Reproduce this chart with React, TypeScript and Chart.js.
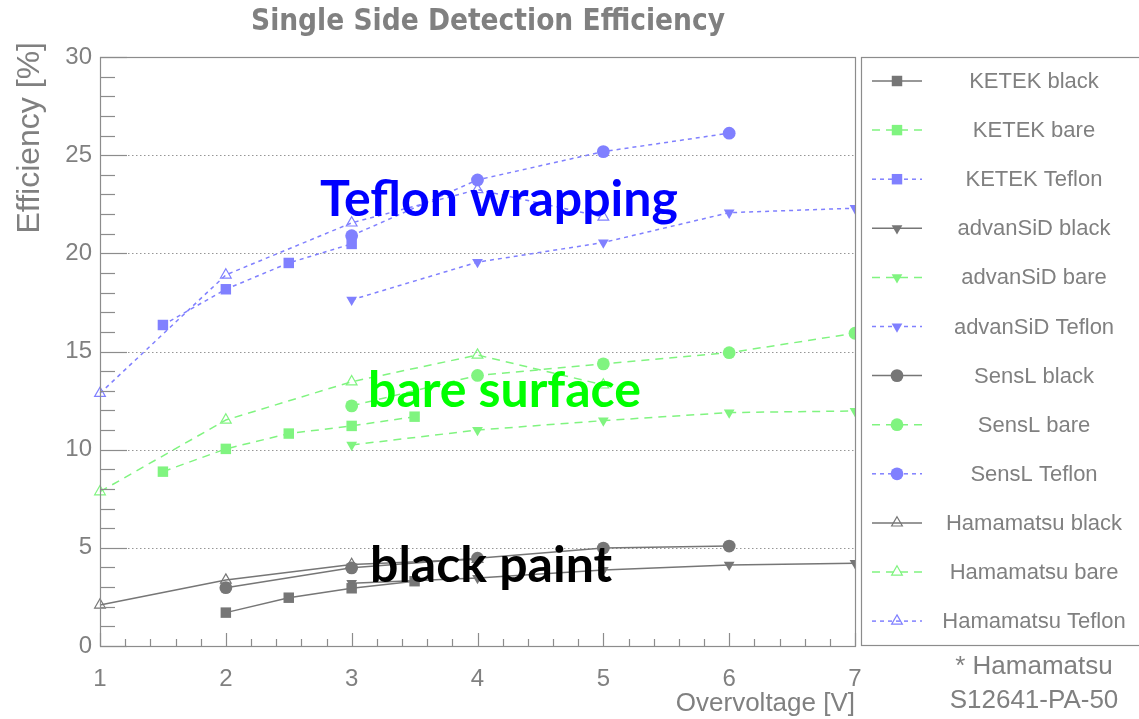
import React, { useEffect, useRef } from "react";
import { Chart, registerables } from "chart.js";

Chart.register(...registerables);

// Axis ranges and tick values
const overvoltageRange = [1, 7];
const efficiencyRange = [0, 30];
const efficiencyGrid = [5, 10, 15, 20, 25];

// Measured single side detection efficiency [%] versus overvoltage [V]
const ketekBlackV = [2, 2.5, 3, 3.5];
const ketekBlackE = [1.7, 2.46, 2.94, 3.3];
const ketekBareV = [1.5, 2, 2.5, 3, 3.5];
const ketekBareE = [8.88, 10.04, 10.82, 11.21, 11.68];
const ketekTeflonV = [1.5, 2, 2.5, 3];
const ketekTeflonE = [16.35, 18.17, 19.51, 20.48];

const advansidBlackV = [3, 4, 5, 6, 7];
const advansidBlackE = [3.2, 3.46, 3.87, 4.13, 4.22];
const advansidBareV = [3, 4, 5, 6, 7];
const advansidBareE = [10.24, 11.0, 11.48, 11.89, 11.97];
const advansidTeflonV = [3, 4, 5, 6, 7];
const advansidTeflonE = [17.63, 19.55, 20.55, 22.07, 22.3];

const senslBlackV = [2, 3, 4, 5, 6];
const senslBlackE = [2.97, 3.98, 4.47, 4.99, 5.09];
const senslBareV = [3, 4, 5, 6, 7];
const senslBareE = [12.23, 13.78, 14.37, 14.94, 15.93];
const senslTeflonV = [3, 4, 5, 6];
const senslTeflonE = [20.9, 23.74, 25.18, 26.12];

const hamamatsuBlackV = [1, 2, 3, 4];
const hamamatsuBlackE = [2.09, 3.36, 4.15, 4.42];
const hamamatsuBareV = [1, 2, 3, 4, 5];
const hamamatsuBareE = [7.86, 11.51, 13.46, 14.82, 13.3];
const hamamatsuTeflonV = [1, 2, 3, 4, 5];
const hamamatsuTeflonE = [12.87, 18.9, 21.55, 23.25, 21.85];

const GRAY = "rgb(118,118,118)";
const GREEN = "rgb(128,244,128)";
const BLUE = "rgb(128,128,255)";
const TEXT_GRAY = "rgb(128,128,128)";
const FRAME = "rgb(140,140,140)";
const SANS = "'Liberation Sans', Arial, sans-serif";

type Surface = "black" | "bare" | "teflon";
type Vendor = "KETEK" | "advanSiD" | "SensL" | "Hamamatsu";

const surfaceStyle: Record<Surface, { color: string; dash: number[]; word: string }> = {
  black: { color: GRAY, dash: [], word: "black" },
  bare: { color: GREEN, dash: [8, 6], word: "bare" },
  teflon: { color: BLUE, dash: [4, 4], word: "Teflon" },
};

type Marker = { style: "rect" | "circle" | "triangle"; radius: number; rotation: number; open: boolean };
const vendorMarker: Record<Vendor, Marker> = {
  KETEK: { style: "rect", radius: 7.4, rotation: 0, open: false },
  advanSiD: { style: "triangle", radius: 6.2, rotation: 180, open: false },
  SensL: { style: "circle", radius: 6.4, rotation: 0, open: false },
  Hamamatsu: { style: "triangle", radius: 6.2, rotation: 0, open: true },
};

const series: [Vendor, Surface, number[], number[]][] = [
  ["KETEK", "black", ketekBlackV, ketekBlackE],
  ["KETEK", "bare", ketekBareV, ketekBareE],
  ["KETEK", "teflon", ketekTeflonV, ketekTeflonE],
  ["advanSiD", "black", advansidBlackV, advansidBlackE],
  ["advanSiD", "bare", advansidBareV, advansidBareE],
  ["advanSiD", "teflon", advansidTeflonV, advansidTeflonE],
  ["SensL", "black", senslBlackV, senslBlackE],
  ["SensL", "bare", senslBareV, senslBareE],
  ["SensL", "teflon", senslTeflonV, senslTeflonE],
  ["Hamamatsu", "black", hamamatsuBlackV, hamamatsuBlackE],
  ["Hamamatsu", "bare", hamamatsuBareV, hamamatsuBareE],
  ["Hamamatsu", "teflon", hamamatsuTeflonV, hamamatsuTeflonE],
];

function drawMarker(ctx: CanvasRenderingContext2D, m: Marker, color: string, x: number, y: number) {
  ctx.save();
  ctx.setLineDash([]);
  ctx.beginPath();
  if (m.style === "rect") {
    const s = m.radius * Math.SQRT1_2;
    ctx.rect(x - s, y - s, 2 * s, 2 * s);
  } else if (m.style === "circle") {
    ctx.arc(x, y, m.radius, 0, Math.PI * 2);
  } else {
    let a = (m.rotation * Math.PI) / 180;
    for (let k = 0; k < 3; k++) {
      const px = x + Math.sin(a) * m.radius;
      const py = y - Math.cos(a) * m.radius;
      if (k === 0) ctx.moveTo(px, py);
      else ctx.lineTo(px, py);
      a += (2 * Math.PI) / 3;
    }
    ctx.closePath();
  }
  if (m.open) {
    ctx.strokeStyle = color;
    ctx.lineWidth = 1.2;
    ctx.stroke();
  } else {
    ctx.fillStyle = color;
    ctx.fill();
  }
  ctx.restore();
}

// Frame, inside ticks, dotted grid, legend and text in the style of a ROOT canvas
const rootStyle = {
  id: "rootStyle",
  beforeDatasetsDraw(chart: any) {
    const { ctx, chartArea: a } = chart;
    const ys = chart.scales.y;
    ctx.save();
    ctx.strokeStyle = "rgb(150,150,150)";
    ctx.lineWidth = 1;
    ctx.setLineDash([1.5, 2.5]);
    for (const v of efficiencyGrid) {
      const py = Math.round(ys.getPixelForValue(v)) + 0.5;
      ctx.beginPath();
      ctx.moveTo(a.left, py);
      ctx.lineTo(a.right, py);
      ctx.stroke();
    }
    ctx.restore();
  },
  afterDatasetsDraw(chart: any) {
    const { ctx, chartArea: a } = chart;
    const xs = chart.scales.x;
    const ys = chart.scales.y;
    ctx.save();
    // plot frame
    ctx.strokeStyle = FRAME;
    ctx.lineWidth = 1.2;
    ctx.setLineDash([]);
    ctx.strokeRect(Math.round(a.left) + 0.5, Math.round(a.top) + 0.5, Math.round(a.right - a.left), Math.round(a.bottom - a.top));

    // y ticks: major every 5, minor every 1
    for (let v = efficiencyRange[0]; v <= efficiencyRange[1]; v += 1) {
      const py = Math.round(ys.getPixelForValue(v)) + 0.5;
      const len = v % 5 === 0 ? 27 : 15;
      ctx.beginPath();
      ctx.moveTo(a.left, py);
      ctx.lineTo(a.left + len, py);
      ctx.stroke();
    }
    // x ticks: major every 1, minor every 0.2
    for (let i = 0; i <= (overvoltageRange[1] - overvoltageRange[0]) * 5; i++) {
      const v = overvoltageRange[0] + i * 0.2;
      const px = Math.round(xs.getPixelForValue(v)) + 0.5;
      const len = i % 5 === 0 ? 13 : 7;
      ctx.beginPath();
      ctx.moveTo(px, a.bottom);
      ctx.lineTo(px, a.bottom - len);
      ctx.stroke();
    }

    // legend box
    const lx = 861;
    ctx.fillStyle = "#fff";
    ctx.fillRect(lx, Math.round(a.top), 300, Math.round(a.bottom - a.top));
    ctx.strokeRect(lx + 0.5, Math.round(a.top) + 0.5, 300, Math.round(a.bottom - a.top) - 1);
    chart.data.datasets.forEach((ds: any, i: number) => {
      const cy = 81 + i * 49.1;
      const surf = surfaceStyle[ds.surface as Surface];
      ctx.save();
      ctx.strokeStyle = surf.color;
      ctx.lineWidth = 1.5;
      ctx.setLineDash(surf.dash);
      ctx.beginPath();
      ctx.moveTo(872, cy);
      ctx.lineTo(922, cy);
      ctx.stroke();
      ctx.restore();
      drawMarker(ctx, vendorMarker[ds.vendor as Vendor], surf.color, 897, cy);
      ctx.fillStyle = TEXT_GRAY;
      ctx.font = `22px ${SANS}`;
      ctx.textAlign = "center";
      ctx.textBaseline = "middle";
      ctx.fillText(ds.label, 1034, cy + 1);
    });

    // footnote under the legend
    ctx.fillStyle = TEXT_GRAY;
    ctx.font = `26px ${SANS}`;
    ctx.textAlign = "center";
    ctx.textBaseline = "middle";
    ctx.fillText("* Hamamatsu", 1034, 667);
    ctx.fillText("S12641-PA-50", 1034, 701);

    // axis titles
    ctx.textAlign = "right";
    ctx.fillText("Overvoltage [V]", Math.round(a.right), 704);
    ctx.save();
    ctx.translate(30, 42);
    ctx.rotate(-Math.PI / 2);
    ctx.font = `32px ${SANS}`;
    ctx.textAlign = "right";
    ctx.textBaseline = "middle";
    ctx.fillText("Efficiency [%]", 0, 0);
    ctx.restore();

    // title
    ctx.fillStyle = TEXT_GRAY;
    ctx.font = `bold 29.5px 'DejaVu Sans Condensed', 'DejaVu Sans', sans-serif`;
    ctx.textAlign = "center";
    ctx.textBaseline = "middle";
    ctx.fillText("Single Side Detection Efficiency", 488, 22);

    // group labels
    ctx.font = `bold 50px Lato, 'Open Sans', sans-serif`;
    ctx.textAlign = "left";
    ctx.textBaseline = "alphabetic";
    ctx.fillStyle = "#0000ff";
    ctx.fillText("Teflon wrapping", 320, 216);
    ctx.fillStyle = "#00ff00";
    ctx.fillText("bare surface", 368, 407);
    ctx.fillStyle = "#000000";
    ctx.fillText("black paint", 370, 582);
    ctx.restore();
  },
};

export default function App() {
  const ref = useRef<HTMLCanvasElement>(null);

  useEffect(() => {
    const canvas = ref.current;
    if (!canvas) return;
    const datasets = series.map(([vendor, surface, vs, es]) => {
      const s = surfaceStyle[surface];
      const m = vendorMarker[vendor];
      return {
        label: `${vendor} ${s.word}`,
        vendor,
        surface,
        data: vs.map((v, i) => ({ x: v, y: es[i] })),
        showLine: true,
        borderColor: s.color,
        borderWidth: 1.5,
        borderDash: s.dash,
        pointStyle: m.style,
        pointRadius: m.radius,
        pointRotation: m.rotation,
        pointBackgroundColor: m.open ? "rgba(0,0,0,0)" : s.color,
        pointBorderColor: s.color,
        pointBorderWidth: m.open ? 1.2 : 0,
        tension: 0,
        clip: { left: 20, top: 20, bottom: 20, right: 0 },
      };
    });

    const chart = new Chart(canvas, {
      type: "scatter",
      data: { datasets: datasets as any },
      plugins: [rootStyle],
      options: {
        responsive: false,
        animation: false,
        events: [],
        layout: { padding: { top: 57, right: 284, left: 0, bottom: 0 } },
        plugins: {
          legend: { display: false },
          tooltip: { enabled: false },
          title: { display: false },
        },
        scales: {
          x: {
            type: "linear",
            min: overvoltageRange[0],
            max: overvoltageRange[1],
            grid: { display: false, drawTicks: false },
            border: { display: false },
            ticks: {
              stepSize: 1,
              color: TEXT_GRAY,
              font: { family: SANS, size: 24 },
              padding: 19,
              maxRotation: 0,
            },
            afterFit: (scale: any) => {
              scale.height = 73;
            },
          },
          y: {
            type: "linear",
            min: efficiencyRange[0],
            max: efficiencyRange[1],
            grid: { display: false, drawTicks: false },
            border: { display: false },
            ticks: {
              stepSize: 5,
              color: TEXT_GRAY,
              font: { family: SANS, size: 24 },
              padding: 8,
            },
            afterFit: (scale: any) => {
              scale.width = 100;
            },
          },
        },
      },
    });
    return () => chart.destroy();
  }, []);

  return (
    <div style={{ position: "fixed", left: 0, top: 0, width: 1139, height: 719, background: "#fff" }}>
      <canvas ref={ref} width={1139} height={719} style={{ display: "block", width: 1139, height: 719 }} />
    </div>
  );
}
